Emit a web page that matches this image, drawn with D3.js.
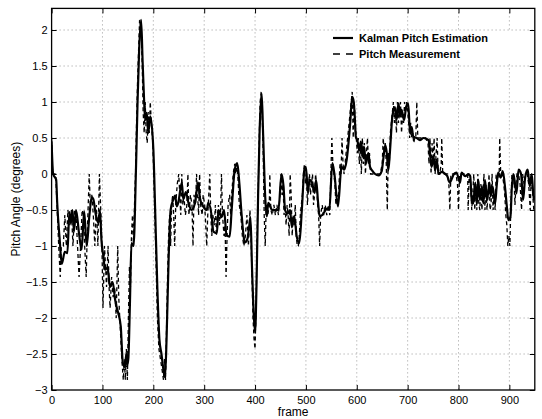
<!DOCTYPE html>
<html lang="en">
<head>
    <meta charset="utf-8" />
    <title>Kalman Pitch Estimation</title>
    <script src="https://d3js.org/d3.v7.min.js"></script>
    <style>
        body { margin: 0; background: #fff; }
        svg { display: block; }
        text { font-family: "Liberation Sans", Arial, Helvetica, sans-serif; }
    </style>
</head>
<body>
    <script>
        // Kalman filter estimate (frame, degrees)
        var kalmanFrames = [0, 3, 9, 11, 16, 20, 26, 31, 35, 38, 41, 44, 48, 54, 59, 64, 69, 74, 79, 82,
            87, 92, 95, 98, 102, 105, 110, 115, 120, 125, 128, 131, 136, 140, 144, 147, 149, 151, 154, 157,
            161, 166, 169, 172, 176, 179, 182, 184, 187, 190, 194, 200, 204, 208, 212, 216, 221, 223, 226, 230,
            234, 239, 243, 246, 249, 256, 259, 264, 269, 275, 282, 288, 292, 298, 305, 308, 315, 318, 325, 328,
            334, 339, 344, 350, 354, 360, 365, 369, 374, 380, 385, 389, 391, 394, 397, 400, 403, 406, 409, 413,
            416, 420, 423, 426, 430, 433, 446, 452, 456, 459, 464, 469, 472, 477, 482, 487, 492, 497, 500, 504,
            507, 512, 517, 520, 524, 527, 532, 542, 546, 552, 556, 563, 570, 575, 580, 587, 591, 594, 596, 598,
            601, 605, 608, 612, 614, 618, 623, 626, 630, 636, 643, 649, 652, 656, 659, 662, 665, 670, 675, 678,
            682, 685, 688, 693, 697, 701, 705, 708, 711, 718, 724, 731, 741, 744, 747, 751, 754, 757, 761, 767,
            774, 778, 783, 786, 791, 796, 803, 806, 813, 820, 823, 826, 829, 833, 836, 839, 842, 846, 849, 852,
            856, 861, 863, 867, 872, 875, 878, 883, 887, 892, 895, 898, 902, 905, 908, 914, 918, 923, 927, 931,
            936, 940, 944, 948, 950];
        var kalmanValues = [0.45, 0.0, -0.08, -0.4, -0.92, -1.25, -1.08, -1.1, -0.53, -0.68, -0.5, -0.8, -0.5, -0.83, -1.05, -0.52, -1.0, -0.6, -0.32, -0.35,
            -0.57, -0.68, -0.5, -0.92, -1.15, -1.33, -1.3, -1.57, -1.5, -1.75, -1.85, -1.93, -2.12, -2.62, -2.68, -2.5, -2.65, -2.55, -1.8, -0.96,
            -1.0, 0.1, 1.0, 1.7, 2.14, 1.55, 1.0, 0.75, 0.85, 0.57, 0.8, 0.35, -0.6, -1.6, -2.3, -2.5, -2.77, -2.82, -2.3, -1.2,
            -0.5, -0.36, -0.3, -0.45, -0.4, -0.12, -0.35, -0.25, -0.4, -0.5, -0.4, -0.12, -0.35, -0.45, -0.5, -0.4, -0.6, -0.8, -0.82, -0.5,
            -0.6, -0.5, -0.85, -0.87, -0.5, 0.06, 0.15, -0.12, -0.6, -0.95, -0.9, -0.7, -0.6, -1.3, -1.9, -2.2, -1.5, -0.3, 0.6, 1.12,
            0.52, -0.32, -0.59, -0.4, -0.45, -0.5, -0.5, 0.0, -0.17, -0.5, -0.55, -0.5, -0.73, -0.59, -0.87, -0.96, -0.5, 0.06, 0.1, -0.26,
            -0.08, -0.12, -0.26, -0.08, -0.4, -0.59, -0.57, -0.48, -0.5, 0.15, 0.0, -0.45, 0.1, 0.06, 0.19, 0.7, 1.07, 1.0, 0.8, 0.52,
            0.47, 0.33, 0.45, 0.24, 0.38, 0.15, 0.29, 0.1, 0.05, 0.0, -0.02, 0.04, 0.2, 0.4, 0.29, 0.05, 0.29, 0.8, 0.93, 0.75,
            0.98, 0.8, 0.89, 0.75, 0.93, 0.98, 0.56, 0.65, 0.52, 0.5, 0.47, 0.5, 0.47, 0.29, 0.1, 0.24, 0.05, 0.2, 0.0, 0.03,
            0.0, -0.03, -0.12, -0.08, 0.0, 0.02, -0.12, 0.02, -0.03, 0.0, -0.03, -0.36, -0.41, -0.12, -0.41, -0.08, -0.36, -0.17, -0.41, -0.08,
            -0.36, -0.12, -0.31, -0.17, -0.41, -0.17, 0.02, -0.05, 0.04, -0.22, -0.45, -0.64, -0.6, -0.17, 0.0, -0.27, 0.06, 0.0, -0.36, -0.05,
            0.06, -0.17, 0.0, -0.36, -0.3];

        // raw pitch measurement (frame, degrees)
        var measFrames = [0, 2, 8, 11, 14, 17, 19, 23, 26, 29, 32, 36, 39, 42, 45, 48, 51, 54, 57, 60,
            63, 65, 68, 70, 72, 74, 76, 79, 82, 85, 88, 91, 94, 97, 99, 101, 104, 106, 108, 111,
            113, 115, 118, 121, 124, 127, 130, 132, 135, 138, 141, 143, 145, 147, 149, 151, 153, 155, 157, 159,
            161, 163, 165, 167, 169, 171, 173, 176, 178, 180, 182, 184, 186, 188, 190, 192, 194, 196, 199, 202,
            205, 208, 211, 214, 217, 220, 222, 224, 226, 228, 230, 232, 234, 236, 238, 240, 242, 244, 247, 250,
            252, 254, 256, 258, 260, 263, 266, 268, 270, 273, 276, 278, 280, 283, 285, 287, 289, 291, 293, 296,
            298, 301, 303, 305, 307, 309, 311, 313, 315, 317, 320, 322, 324, 326, 328, 330, 332, 334, 336, 339,
            341, 343, 345, 347, 350, 352, 354, 357, 360, 362, 365, 367, 369, 372, 375, 378, 381, 384, 387, 390,
            392, 394, 396, 398, 400, 402, 404, 406, 408, 410, 412, 414, 416, 418, 420, 422, 425, 428, 429, 431,
            434, 437, 440, 443, 446, 449, 451, 453, 455, 457, 459, 461, 463, 465, 467, 469, 471, 473, 475, 477,
            479, 481, 483, 485, 487, 489, 491, 493, 495, 497, 499, 501, 503, 505, 507, 509, 511, 513, 515, 517,
            519, 521, 523, 525, 527, 529, 532, 535, 538, 541, 544, 547, 549, 551, 553, 555, 557, 559, 561, 563,
            565, 567, 569, 571, 573, 575, 577, 579, 581, 583, 585, 587, 589, 591, 593, 595, 597, 599, 601, 603,
            605, 607, 609, 611, 613, 615, 617, 619, 621, 623, 625, 627, 630, 640, 646, 650, 652, 654, 656, 658,
            660, 662, 664, 666, 668, 670, 672, 674, 676, 678, 680, 682, 684, 686, 688, 690, 692, 694, 696, 698,
            700, 702, 704, 706, 708, 710, 712, 714, 716, 718, 720, 725, 730, 735, 740, 742, 744, 746, 748, 750,
            752, 754, 756, 758, 760, 763, 766, 767, 769, 772, 775, 778, 781, 783, 785, 788, 792, 795, 798, 800,
            802, 806, 810, 814, 818, 819, 821, 824, 826, 828, 830, 832, 834, 836, 838, 840, 842, 844, 846, 848,
            850, 852, 854, 856, 858, 860, 862, 864, 866, 868, 870, 872, 874, 876, 878, 880, 881, 883, 886, 889,
            891, 893, 895, 897, 899, 901, 903, 905, 907, 909, 911, 913, 915, 918, 921, 924, 926, 929, 932, 935,
            938, 941, 943, 946, 948, 950];
        var measValues = [0.5, 0.0, 0.0, -0.5, -1.0, -1.43, -1.0, -1.0, -0.57, -1.0, -0.5, -0.71, -0.5, -1.0, -0.5, -0.57, -1.0, -1.43, -1.0, -0.5,
            -0.57, -1.0, -1.43, -0.86, -0.43, 0.0, -0.43, -0.29, -0.57, -1.0, -0.43, -1.0, 0.0, -0.57, -1.0, -1.86, -1.0, -1.29, -1.57, -1.0,
            -1.57, -1.86, -1.43, -1.71, -1.57, -2.0, -1.0, -1.71, -2.14, -2.57, -2.86, -2.57, -2.86, -2.43, -2.86, -2.0, -1.29, -1.57, -0.86, -0.57,
            -1.0, -0.43, 0.0, 0.71, 1.29, 1.71, 2.14, 2.0, 1.57, 0.86, 0.57, 1.0, 0.57, 0.43, 0.86, 0.57, 1.0, 0.71, 0.43, -0.29,
            -1.14, -2.0, -2.43, -2.57, -2.71, -2.86, -2.57, -2.86, -2.14, -1.43, -0.86, -0.57, -1.0, -0.43, -0.29, -0.57, -1.0, -0.43, -0.14, 0.0,
            -0.29, -0.57, 0.0, -0.43, -0.29, -0.57, -0.43, 0.0, -0.57, -0.29, -0.43, -1.0, -0.29, -0.43, 0.0, -0.29, -0.57, 0.0, -0.43, -0.57,
            -0.29, -0.43, -0.71, -1.0, -0.57, -0.29, 0.0, -0.57, -0.86, -0.57, -0.71, -0.43, -0.86, -0.57, -0.43, -0.71, -0.57, 0.0, -0.57, -0.86,
            -0.71, -1.43, -0.86, -0.43, -0.29, -0.57, -0.29, 0.0, 0.14, 0.0, 0.14, -0.14, -0.43, -0.57, -0.86, -1.0, -0.86, -0.57, -1.0, -0.5,
            -0.86, -1.43, -2.0, -2.29, -2.43, -1.86, -0.86, -0.29, 0.43, 1.0, 1.14, 0.86, 0.29, -0.57, -1.0, -0.43, -0.57, -0.43, 0.0, -0.5,
            -0.57, -0.43, -0.57, -0.43, -0.57, -0.29, 0.0, -0.29, -0.14, -0.57, -0.43, -0.71, -0.43, -0.57, -0.86, 0.0, -0.29, -0.86, -0.57, -0.71,
            -0.43, -0.86, -1.0, -1.0, -0.86, -0.57, -0.43, -0.29, 0.0, 0.14, -0.14, 0.0, -0.43, -0.14, 0.0, -0.29, -0.14, 0.0, -0.43, -0.29,
            0.0, -0.14, -0.43, -0.57, -1.0, -0.57, -0.43, -0.57, -0.43, -0.57, -0.43, -0.57, 0.0, 0.5, 0.14, 0.0, -0.14, -0.43, -0.29, -0.43,
            -0.14, 0.14, 0.0, 0.5, 0.14, 0.0, 0.14, 0.29, 0.43, 0.57, 0.71, 0.86, 1.0, 1.14, 0.5, 1.0, 0.71, 0.5, 0.29, 0.5,
            0.14, 0.43, 0.0, 0.5, 0.14, 0.43, 0.0, 0.29, 0.5, 0.14, 0.29, 0.0, 0.0, 0.0, 0.0, 0.14, 0.5, 0.29, 0.43, 0.14,
            -0.5, 0.29, 0.14, 0.57, 0.71, 0.86, 1.0, 0.71, 0.86, 0.57, 1.0, 0.71, 0.86, 1.0, 0.57, 0.86, 0.71, 1.0, 0.86, 1.0,
            0.86, 0.71, 0.5, 0.71, 0.5, 0.57, 0.43, 0.5, 0.5, 1.0, 0.5, 0.5, 0.5, 0.5, 0.43, 0.14, 0.5, 0.0, 0.43, 0.14,
            0.5, 0.0, 0.29, 0.5, 0.0, 0.0, 0.14, 0.5, 0.0, 0.0, 0.0, 0.0, -0.14, -0.5, 0.0, 0.0, 0.0, 0.0, -0.14, -0.5,
            0.0, 0.0, 0.0, 0.0, 0.0, -0.5, 0.0, -0.14, -0.5, -0.29, 0.0, -0.5, -0.14, -0.5, 0.0, -0.43, -0.5, -0.14, -0.5, -0.29,
            0.0, -0.5, -0.14, -0.5, -0.29, 0.0, -0.5, -0.43, 0.0, -0.5, -0.29, -0.5, 0.0, -0.14, 0.0, 0.0, 0.5, 0.0, 0.0, -0.14,
            -0.29, -0.57, -0.71, -1.0, -0.86, -1.0, -0.43, 0.0, -0.14, 0.0, -0.43, -0.14, 0.0, 0.0, -0.14, -0.5, 0.0, -0.14, 0.0, 0.0,
            -0.14, -0.5, 0.0, -0.29, -0.5, -0.5];

        // axis ticks
        var xTicks = [0, 100, 200, 300, 400, 500, 600, 700, 800, 900];
        var yTicks = [-3, -2.5, -2, -1.5, -1, -0.5, 0, 0.5, 1, 1.5, 2];
        var legendLabels = ["Kalman Pitch Estimation", "Pitch Measurement"];

        var w = 542;
        var h = 419;
        var plotLeft = 51.6, plotRight = 534.8, plotTop = 8.4, plotBottom = 390;

        var xScale = d3.scaleLinear().domain([0, 950]).range([plotLeft, plotRight]);
        var yScale = d3.scaleLinear().domain([-3, 2.3]).range([plotBottom, plotTop]);

        var svg = d3.select("body")
            .append("svg")
            .attr("width", w)
            .attr("height", h);

        // dotted grid
        svg.append("g")
            .selectAll("line")
            .data(xTicks.slice(1))
            .enter()
            .append("line")
            .attr("x1", function (d) { return xScale(d); })
            .attr("x2", function (d) { return xScale(d); })
            .attr("y1", plotTop)
            .attr("y2", plotBottom)
            .attr("stroke", "#999")
            .attr("stroke-dasharray", "1,3");

        svg.append("g")
            .selectAll("line")
            .data(yTicks.slice(1))
            .enter()
            .append("line")
            .attr("x1", plotLeft)
            .attr("x2", plotRight)
            .attr("y1", function (d) { return yScale(d); })
            .attr("y2", function (d) { return yScale(d); })
            .attr("stroke", "#999")
            .attr("stroke-dasharray", "1,3");

        svg.append("clipPath")
            .attr("id", "plot")
            .append("rect")
            .attr("x", plotLeft)
            .attr("y", plotTop)
            .attr("width", plotRight - plotLeft)
            .attr("height", plotBottom - plotTop);

        var line = d3.line()
            .x(function (d) { return xScale(d[0]); })
            .y(function (d) { return yScale(d[1]); });

        var kalman = d3.zip(kalmanFrames, kalmanValues);
        var meas = d3.zip(measFrames, measValues);

        // measurement, dashed
        svg.append("path")
            .datum(meas)
            .attr("clip-path", "url(#plot)")
            .attr("d", line)
            .attr("fill", "none")
            .attr("stroke", "#000")
            .attr("stroke-width", 1.3)
            .attr("stroke-dasharray", "4,3");

        // kalman estimate, solid
        svg.append("path")
            .datum(kalman)
            .attr("clip-path", "url(#plot)")
            .attr("d", line.curve(d3.curveMonotoneX))
            .attr("fill", "none")
            .attr("stroke", "#000")
            .attr("stroke-width", 2.2)
            .attr("stroke-linejoin", "round");

        // axes with inward ticks on all four sides
        svg.append("g")
            .attr("transform", "translate(0," + plotBottom + ")")
            .call(d3.axisBottom(xScale).tickValues(xTicks).tickSizeInner(-5).tickSizeOuter(0).tickPadding(6));
        svg.append("g")
            .attr("transform", "translate(0," + plotTop + ")")
            .call(d3.axisTop(xScale).tickValues(xTicks).tickSizeInner(-5).tickSizeOuter(0).tickFormat(""));
        svg.append("g")
            .attr("transform", "translate(" + plotLeft + ",0)")
            .call(d3.axisLeft(yScale).tickValues(yTicks).tickSizeInner(-5).tickSizeOuter(0).tickPadding(4)
                .tickFormat(function (d) { return String(d).replace("-", "\u2212"); }));
        svg.append("g")
            .attr("transform", "translate(" + plotRight + ",0)")
            .call(d3.axisRight(yScale).tickValues(yTicks).tickSizeInner(-5).tickSizeOuter(0).tickFormat(""));

        svg.selectAll(".domain").remove();
        svg.selectAll(".tick line").attr("stroke", "#000");
        svg.selectAll(".tick text")
            .attr("font-family", "'Liberation Sans', Arial, sans-serif")
            .attr("font-size", "11px")
            .attr("fill", "#000");

        // plot box
        svg.append("rect")
            .attr("x", plotLeft)
            .attr("y", plotTop)
            .attr("width", plotRight - plotLeft)
            .attr("height", plotBottom - plotTop)
            .attr("fill", "none")
            .attr("stroke", "#000")
            .attr("stroke-width", 1.3);

        // legend
        var legend = svg.append("g");
        legend.append("rect")
            .attr("x", 326)
            .attr("y", 31)
            .attr("width", 190)
            .attr("height", 31)
            .attr("fill", "#fff");
        legend.selectAll("line")
            .data(legendLabels)
            .enter()
            .append("line")
            .attr("x1", 333)
            .attr("x2", 353)
            .attr("y1", function (d, i) { return 38 + i * 16; })
            .attr("y2", function (d, i) { return 38 + i * 16; })
            .attr("stroke", "#000")
            .attr("stroke-width", function (d, i) { return i === 0 ? 2.2 : 1.5; })
            .attr("stroke-dasharray", function (d, i) { return i === 0 ? null : "7,6"; });
        legend.selectAll("text")
            .data(legendLabels)
            .enter()
            .append("text")
            .attr("x", 359)
            .attr("y", function (d, i) { return 42 + i * 16; })
            .text(function (d) { return d; })
            .attr("font-size", "11px")
            .attr("font-weight", "bold");

        // axis labels
        svg.append("text")
            .attr("text-anchor", "middle")
            .attr("x", (plotLeft + plotRight) / 2)
            .attr("y", 416)
            .attr("font-size", "12px")
            .text("frame");

        svg.append("text")
            .attr("text-anchor", "middle")
            .attr("transform", "rotate(-90)")
            .attr("x", -(plotTop + plotBottom) / 2)
            .attr("y", 20)
            .attr("font-size", "12px")
            .text("Pitch Angle (degrees)");
    </script>
</body>
</html>
